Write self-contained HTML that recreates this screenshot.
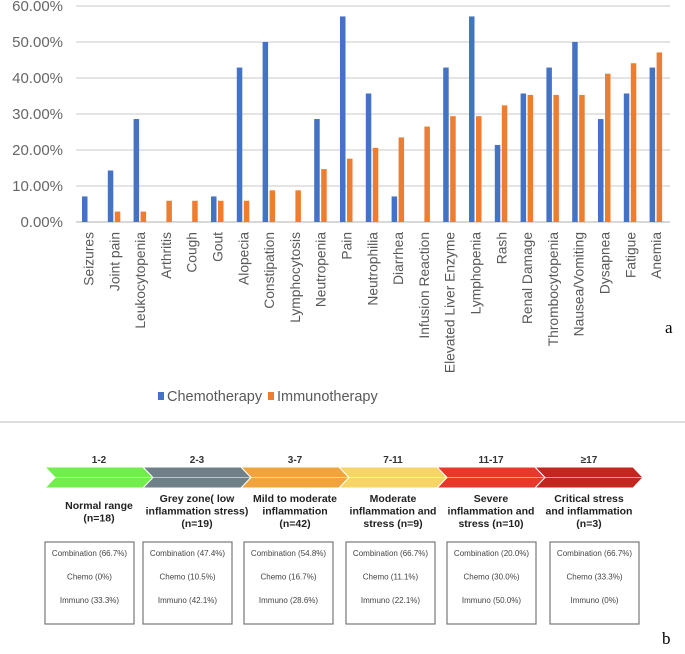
<!DOCTYPE html>
<html><head><meta charset="utf-8"><style>
body{margin:0;background:#fff;width:685px;height:649px;overflow:hidden;font-family:"Liberation Sans",sans-serif}
</style></head><body>
<svg width="685" height="649" xmlns="http://www.w3.org/2000/svg">
<g id="chart"></g>
<text x="665" y="333" font-family="Liberation Serif" font-size="17">a</text>
<line x1="0" y1="422" x2="685" y2="422" stroke="#ddd" stroke-width="2"/>
<g id="flow"></g>
<text x="662" y="644" font-family="Liberation Serif" font-size="17">b</text>
</svg>
<script>
const categories=["Seizures","Joint pain","Leukocytopenia","Arthritis","Cough","Gout","Alopecia","Constipation","Lymphocytosis","Neutropenia","Pain","Neutrophilia","Diarrhea","Infusion Reaction","Elevated Liver Enzyme","Lymphopenia","Rash","Renal Damage","Thrombocytopenia","Nausea/Vomiting","Dysapnea","Fatigue","Anemia"];
const chemo=[7.1,14.3,28.6,0,0,7.1,42.9,50,0,28.6,57.1,35.7,7.1,0,42.9,57.1,21.4,35.7,42.9,50,28.6,35.7,42.9];
const immuno=[0,2.9,2.9,5.9,5.9,5.9,5.9,8.8,8.8,14.7,17.6,20.6,23.5,26.5,29.4,29.4,32.4,35.3,35.3,35.3,41.2,44.1,47.1];
const yTicks=[0,10,20,30,40,50,60];
const yTickLabels=["0.00%","10.00%","20.00%","30.00%","40.00%","50.00%","60.00%"];
const ns="http://www.w3.org/2000/svg";
const g=document.getElementById('chart');
const y=v=>222-v*3.6;
const x=i=>88.5+i*25.8;
function mk(t,a,p){const e=document.createElementNS(ns,t);for(const k in a)e.setAttribute(k,a[k]);(p||g).appendChild(e);return e;}
yTicks.forEach((t,i)=>{
 const l=mk('line',{x1:76,x2:670,y1:y(t),y2:y(t),stroke:t===0?'#ccc':'#dcdcdc','stroke-width':1.5});
 
 
 const tx=mk('text',{x:63,y:y(t)+5,'text-anchor':'end','font-size':15,fill:'#666'});
 tx.textContent=yTickLabels[i];
 
 
});
categories.forEach((c,i)=>{
 if(chemo[i]>0){const r=mk('rect',{x:x(i)-6.5,y:y(chemo[i]),width:5.5,height:222-y(chemo[i]),fill:'#4472c4'});
 
 }
 if(immuno[i]>0){const r=mk('rect',{x:x(i)+0.5,y:y(immuno[i]),width:5.5,height:222-y(immuno[i]),fill:'#ed7d31'});
 
 }
 const t=mk('text',{x:0,y:0,'text-anchor':'end','font-size':13.8,fill:'#595959',transform:`translate(${x(i)+5},232) rotate(-90)`});
 t.textContent=c;
 
 
});
[[158,'#4472c4','Chemotherapy'],[268,'#ed7d31','Immunotherapy']].forEach(([lx,col,lab])=>{
 const r=mk('rect',{x:lx,y:392,width:6,height:8,fill:col});
 
 
 const t=mk('text',{x:lx+9,y:401,'font-size':14.5,fill:'#595959'});
 t.textContent=lab;
 
 
});
const f=document.getElementById('flow');
const ranges=["1-2","2-3","3-7","7-11","11-17","≥17"];
const colors=["#72ee4c","#6f8088","#f0a43b","#f6d466","#e8382a","#c3261f"];
const titles=[["Normal range","(n=18)"],["Grey zone( low","inflammation stress)","(n=19)"],["Mild to moderate","inflammation","(n=42)"],["Moderate","inflammation and","stress (n=9)"],["Severe","inflammation and","stress (n=10)"],["Critical stress","and inflammation","(n=3)"]];
const boxes=[["66.7%","0%","33.3%"],["47.4%","10.5%","42.1%"],["54.8%","16.7%","28.6%"],["66.7%","11.1%","22.1%"],["20.0%","30.0%","50.0%"],["66.7%","33.3%","0%"]];
const boxX=[45,143,244,346,447,550];
ranges.forEach((r,i)=>{
 const x0=45+i*98,x1=x0+98,t=467,b=488,m=(t+b)/2,d=10;
 const p=mk('polygon',{points:`${x0},${t} ${x1},${t} ${x1+d},${m} ${x1},${b} ${x0},${b} ${x0+d},${m}`,fill:colors[i],stroke:'#fff','stroke-width':1},f);
 
 
 mk('line',{x1:x0+d,x2:x1+d,y1:m,y2:m,stroke:'rgba(255,255,255,0.55)','stroke-width':1},f);
 const cx=x0+d/2+49;
 const rt=mk('text',{x:cx,y:463,'text-anchor':'middle','font-size':10,'font-weight':'bold',fill:'#333'},f);
 rt.textContent=r;
 
 
 const lines=titles[i];const y0=lines.length===2?509:502;
 lines.forEach((ln,j)=>{const tt=mk('text',{x:cx,y:y0+j*12.5,'text-anchor':'middle','font-size':10.5,'font-weight':'bold',fill:'#222'},f);
  tt.textContent=ln;
  
  });
 const bx=boxX[i];
 const br=mk('rect',{x:bx,y:542,width:89,height:82,fill:'#fff',stroke:'#777','stroke-width':1.2},f);
 
 
 [["Combination",0],["Chemo",1],["Immuno",2]].forEach(([nm,k])=>{
  const tt=mk('text',{x:bx+44.5,y:556+k*23.5,'text-anchor':'middle','font-size':8,fill:'#444'},f);
  tt.textContent=`${nm} (${boxes[i][k]})`;
  
  
 });
});
</script>
</body></html>
